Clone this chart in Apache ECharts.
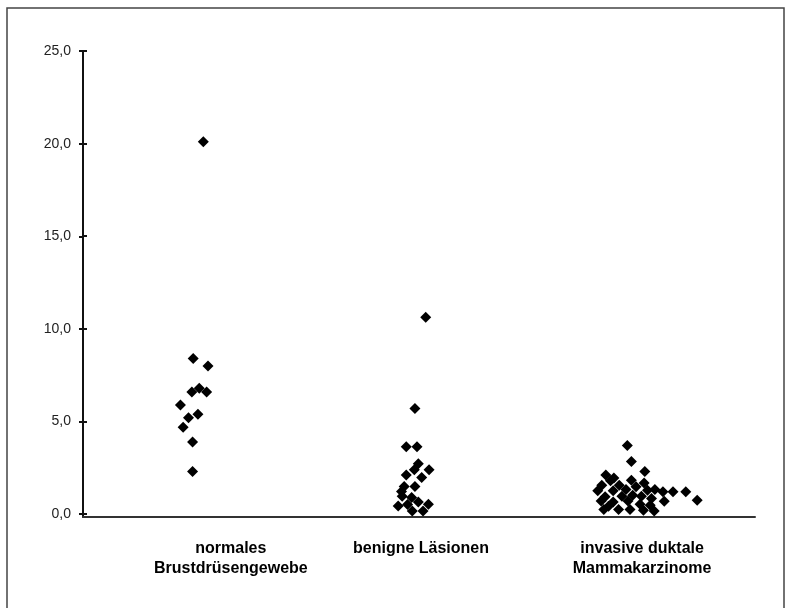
<!DOCTYPE html>
<html>
<head>
<meta charset="utf-8">
<script src="https://cdn.jsdelivr.net/npm/echarts@6/dist/echarts.min.js"></script>
<style>html,body{margin:0;padding:0;background:#fff}#c{width:791px;height:608px}</style>
</head>
<body>
<div id="c"></div>
<script>
// Category names (two-line labels) and where they sit along the hidden jitter axis
const categories = ['normales\nBrustdrüsengewebe', 'benigne Läsionen', 'invasive duktale\nMammakarzinome'];
const categoryLabelAt = [22.0, 50.3, 83.2];
const yTicks = [0, 5, 10, 15, 20, 25];

// Jitter position (x) and value (y) for each group
const normalX = [17.9, 16.4, 18.6, 16.2, 17.3, 18.4, 14.5, 15.7, 17.1, 14.9, 16.3, 16.3];
const normalY = [20.1, 8.4, 8.0, 6.6, 6.8, 6.6, 5.9, 5.2, 5.4, 4.7, 3.9, 2.3];

const benignX = [51.0, 49.4, 48.1, 49.7, 49.9, 49.3, 51.5, 48.1, 50.4, 47.8, 49.4, 47.5, 48.9, 49.9, 46.9, 48.3, 51.4, 49.0, 50.6, 47.4];
const benignY = [10.63, 5.71, 3.64, 3.64, 2.72, 2.40, 2.40, 2.12, 1.98, 1.50, 1.50, 0.97, 0.90, 0.66, 0.45, 0.52, 0.54, 0.18, 0.18, 1.22];

const invasiveX = [81.0, 81.6, 83.6, 77.8, 79.0, 78.5, 81.6, 83.5, 77.2, 79.8, 82.3, 76.6, 78.9, 80.8, 84.0, 85.1, 86.3, 87.8, 89.7, 91.4, 77.7, 80.2, 81.8, 83.1, 84.6, 86.5, 77.1, 78.9, 81.1, 82.9, 78.2, 79.7, 81.4, 83.4, 85.0, 77.5, 84.4];
const invasiveY = [3.71, 2.85, 2.31, 2.11, 1.96, 1.80, 1.84, 1.69, 1.57, 1.57, 1.48, 1.26, 1.26, 1.34, 1.30, 1.34, 1.21, 1.21, 1.21, 0.76, 0.94, 0.97, 1.03, 0.97, 0.85, 0.70, 0.72, 0.66, 0.72, 0.54, 0.43, 0.25, 0.25, 0.22, 0.18, 0.25, 0.49];

function pairs(xs, ys) { return xs.map((x, i) => [x, ys[i]]); }

const chart = echarts.init(document.getElementById('c'));
const fmt = v => v.toFixed(1).replace('.', ',');
const markStyle = { type: 'scatter', symbol: 'diamond', symbolSize: 11, itemStyle: { color: '#000', opacity: 1 }, xAxisIndex: 0, yAxisIndex: 0 };

chart.setOption({
  animation: false,
  backgroundColor: '#fff',
  grid: [
    { left: 83, right: 36, top: 51, bottom: 91, containLabel: false },
    { left: 83, right: 36, top: 51, bottom: 94, containLabel: false }
  ],
  xAxis: [{
    type: 'value', min: 0, max: 100, gridIndex: 0,
    axisLine: { onZero: false, lineStyle: { color: '#333', width: 2 } },
    axisTick: { show: false },
    splitLine: { show: false },
    axisLabel: {
      customValues: categoryLabelAt,
      formatter: v => categories[categoryLabelAt.indexOf(v)] || '',
      fontFamily: 'Liberation Sans, Arial, sans-serif',
      fontWeight: 'bold', fontSize: 16, lineHeight: 20, color: '#000', margin: 22
    }
  }, {
    type: 'value', min: 0, max: 100, gridIndex: 1,
    axisLine: { show: false }, axisTick: { show: false }, axisLabel: { show: false }, splitLine: { show: false }
  }],
  yAxis: [{
    type: 'value', min: -0.15, max: 25, gridIndex: 0,
    axisLine: { show: true, lineStyle: { color: '#111', width: 2 } },
    axisTick: { show: true, customValues: yTicks, length: 4, lineStyle: { color: '#111', width: 2 } },
    splitLine: { show: false },
    axisLabel: {
      customValues: yTicks, formatter: fmt, margin: 12,
      fontFamily: 'Liberation Sans, Arial, sans-serif', fontSize: 14, color: '#222'
    }
  }, {
    type: 'value', min: 0, max: 25, interval: 5, gridIndex: 1, position: 'left',
    axisLine: { show: false },
    axisTick: { show: true, inside: true, length: 4, lineStyle: { color: '#111', width: 2 } },
    axisLabel: { show: false },
    splitLine: { show: false }
  }],
  series: [
    Object.assign({ name: 'normal', data: pairs(normalX, normalY) }, markStyle),
    Object.assign({ name: 'benign', data: pairs(benignX, benignY) }, markStyle),
    Object.assign({ name: 'invasive', data: pairs(invasiveX, invasiveY) }, markStyle),
    { type: 'scatter', name: 'tickhelper', xAxisIndex: 1, yAxisIndex: 1, data: [], silent: true }
  ],
  graphic: [{
    type: 'rect', silent: true,
    shape: { x: 7, y: 8, width: 777, height: 640 },
    style: { fill: 'none', stroke: '#444', lineWidth: 1.5 }
  }]
});
</script>
</body>
</html>
